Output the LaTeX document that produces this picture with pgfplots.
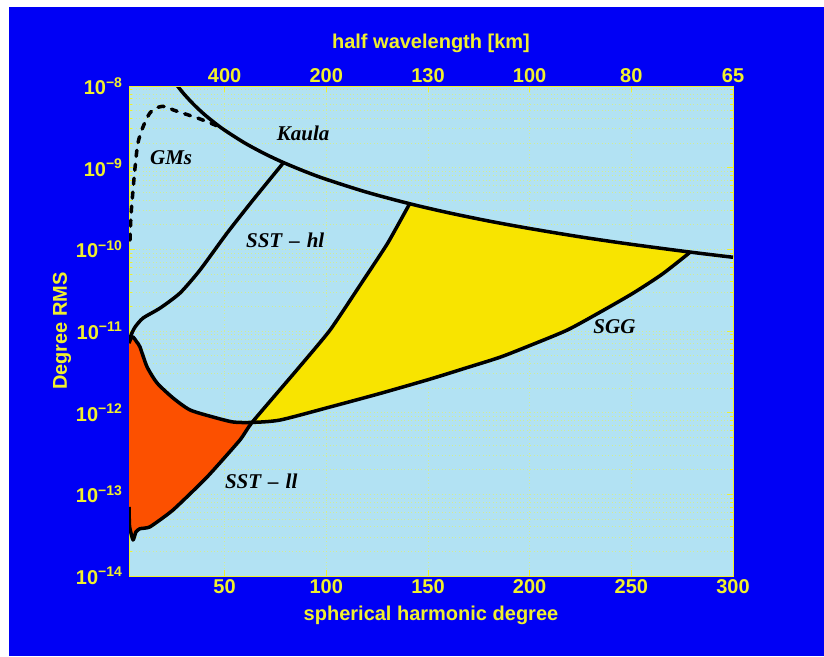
\documentclass[border=0pt]{standalone}
\usepackage{fontspec}
\setmainfont{Liberation Sans}
\newfontfamily\curvefont{Liberation Serif}
\usepackage{pgfplots}
\pgfplotsset{compat=1.18}
\usepackage{pgfplotstable}

\definecolor{bgblue}{RGB}{0,0,245}
\definecolor{paneblue}{RGB}{178,226,243}
\definecolor{txtyellow}{RGB}{240,240,45}
\definecolor{sggyellow}{RGB}{248,228,0}
\definecolor{llred}{RGB}{252,80,0}
\definecolor{gridyellow}{RGB}{210,236,150}

% Kaula rule
\pgfplotstableread{
l     rms
26    1.065e-8
30    8.0e-9
35    5.88e-9
40    4.5e-9
45    3.56e-9
50    2.88e-9
60    2.0e-9
70    1.47e-9
79    1.154e-9
90    8.89e-10
100   7.2e-10
120   5.0e-10
141   3.62e-10
160   2.81e-10
180   2.22e-10
200   1.8e-10
225   1.42e-10
250   1.152e-10
279   9.25e-11
300   8.0e-11
}\kaula

% GM signals (dashed)
\pgfplotstableread{
l     rms
3.5   1.3e-10
4.0   2.63e-10
5.0   5.4e-10
6.0   1.02e-9
7.4   2.0e-9
9.9   3.16e-9
13.3  4.68e-9
17.3  5.5e-9
21.0  5.6e-9
24.7  5.1e-9
30.0  4.6e-9
36.5  4.07e-9
42.0  3.6e-9
48.0  3.12e-9
}\gms

% SST high-low
\pgfplotstableread{
l     rms
3.0   7.1e-12
4.0   8.9e-12
6.0   1.12e-11
9.9   1.44e-11
18.3  1.91e-11
28.1  2.92e-11
37.9  5.58e-11
51.2  1.58e-10
64.0  4.02e-10
79    1.154e-9
}\ssthl

% SST low-low / SGG error curve
\pgfplotstableread{
l     rms
3.0   7.13e-12
4.0   8.2e-12
5.0   8.45e-12
6.9   7.3e-12
8.4   6.37e-12
11.9  3.63e-12
16.8  2.31e-12
24.7  1.51e-12
33.0  1.08e-12
44.3  8.85e-13
54.2  7.69e-13
63.5  7.6e-13
77.3  8.13e-13
101.9 1.175e-12
126.5 1.72e-12
151.1 2.58e-12
168.4 3.51e-12
185.6 4.79e-12
201.8 6.9e-12
218.6 1.03e-11
234.8 1.71e-11
251.0 2.92e-11
265.3 4.99e-11
279   9.25e-11
}\sgg

% SST low-low lower bound
\pgfplotstableread{
l     rms
3.0   7.0e-14
3.3   4.0e-14
5.0   2.76e-14
6.4   3.47e-14
8.4   3.8e-14
13.3  4.0e-14
24.7  6.45e-14
41.4  1.63e-13
57.6  4.64e-13
63.5  7.6e-13
85.5  3.33e-12
101.9 1.03e-11
118.3 4.21e-11
130.2 1.19e-10
141   3.62e-10
}\sstll

% region below SST-ll curve and above its lower bound
\pgfplotstableread{
l     rms
3.0   7.13e-12
4.0   8.2e-12
5.0   8.45e-12
6.9   7.3e-12
8.4   6.37e-12
11.9  3.63e-12
16.8  2.31e-12
24.7  1.51e-12
33.0  1.08e-12
44.3  8.85e-13
54.2  7.69e-13
63.5  7.6e-13
57.6  4.64e-13
41.4  1.63e-13
24.7  6.45e-14
13.3  4.0e-14
8.4   3.8e-14
6.4   3.47e-14
5.0   2.76e-14
3.3   4.0e-14
3.0   7.0e-14
}\llzone

% region bounded by SGG, Kaula and SST-ll
\pgfplotstableread{
l     rms
63.5  7.6e-13
77.3  8.13e-13
101.9 1.175e-12
126.5 1.72e-12
151.1 2.58e-12
168.4 3.51e-12
185.6 4.79e-12
201.8 6.9e-12
218.6 1.03e-11
234.8 1.71e-11
251.0 2.92e-11
265.3 4.99e-11
279   9.25e-11
250   1.152e-10
225   1.42e-10
200   1.8e-10
180   2.22e-10
160   2.81e-10
141   3.62e-10
130.2 1.19e-10
118.3 4.21e-11
101.9 1.03e-11
85.5  3.33e-12
}\sggzone

\begin{document}
\begin{tikzpicture}[x=1pt,y=1pt]
\fill[white] (0,0) rectangle (824,656);
\fill[bgblue] (9,0) rectangle (824,649);

\pgfplotsset{
  frame/.style={
    at={(129pt,80pt)}, anchor=south west,
    scale only axis, width=604pt, height=490pt,
    xmin=3, xmax=300,
    tick align=inside,
    axis line style={txtyellow, line width=0.8pt},
    tick style={txtyellow, line width=0.8pt},
    major tick length=6pt, minor tick length=3pt,
    ticklabel style={txtyellow, font=\fontsize{20}{20}\selectfont\bfseries},
    label style={txtyellow, font=\fontsize{20}{20}\selectfont\bfseries},
  },
}

\begin{axis}[frame,
  ymode=log, ymin=1e-14, ymax=1e-8,
  axis background/.style={fill=paneblue},
  xtick={50,100,150,200,250,300},
  xticklabels={50,100,150,200,250,300},
  ytick={1e-14,1e-13,1e-12,1e-11,1e-10,1e-9,1e-8},
  yticklabels={10\textsuperscript{−14},10\textsuperscript{−13},10\textsuperscript{−12},10\textsuperscript{−11},10\textsuperscript{−10},10\textsuperscript{−9},10\textsuperscript{−8}},
  yticklabel style={xshift=-3pt},
  xmajorgrids, ymajorgrids, yminorgrids,
  grid style={gridyellow, line width=0.7pt, dash pattern=on 0.8pt off 2.6pt},
  minor grid style={gridyellow, line width=0.7pt, dash pattern=on 0.8pt off 2.6pt},
  xlabel={spherical harmonic degree},
  ylabel={Degree RMS},
  xlabel style={at={(axis description cs:0.5,-0.0796)}, anchor=center},
  ylabel style={at={(axis description cs:-0.111,0.5)}, anchor=center},
  every axis plot/.append style={line width=3.5pt, line join=round},
]
\addplot[fill=llred, draw=none] table[x=l, y=rms] {\llzone} -- cycle;
\addplot[fill=sggyellow, draw=none] table[x=l, y=rms] {\sggzone} -- cycle;

\addplot[black, smooth, tension=0.5] table[x=l, y=rms] {\kaula};
\addplot[black, smooth, tension=0.4] table[x=l, y=rms] {\sgg};
\addplot[black, smooth, tension=0.3] table[x=l, y=rms] {\sstll};
\addplot[black, smooth, tension=0.4] table[x=l, y=rms] {\ssthl};
\addplot[black, smooth, tension=0.5, dash pattern=on 6pt off 8pt, line cap=round] table[x=l, y=rms] {\gms};

\begin{scope}[font=\curvefont\fontsize{21}{21}\selectfont\bfseries\itshape]
\node at (axis cs:88.6,2.66e-9) {Kaula};
\node at (axis cs:23.7,1.32e-9) {GMs};
\node at (axis cs:79.8,1.30e-10) {SST\hspace{7pt}–\hspace{7pt}hl};
\node at (axis cs:241.7,1.12e-11) {SGG};
\node at (axis cs:68.0,1.46e-13) {SST\hspace{7pt}–\hspace{7pt}ll};
\end{scope}
\end{axis}

% half-wavelength scale along the top
\begin{axis}[frame,
  ymin=0, ymax=1,
  axis x line*=top, hide y axis,
  xtick={50,100,150,200,250,300},
  xticklabels={400,200,130,100,80,65},
  xlabel={half wavelength [km]},
  xlabel style={at={(axis description cs:0.5,1.0878)}, anchor=center},
]
\end{axis}

\pgfresetboundingbox
\useasboundingbox (0,0) rectangle (824,656);
\end{tikzpicture}
\end{document}
